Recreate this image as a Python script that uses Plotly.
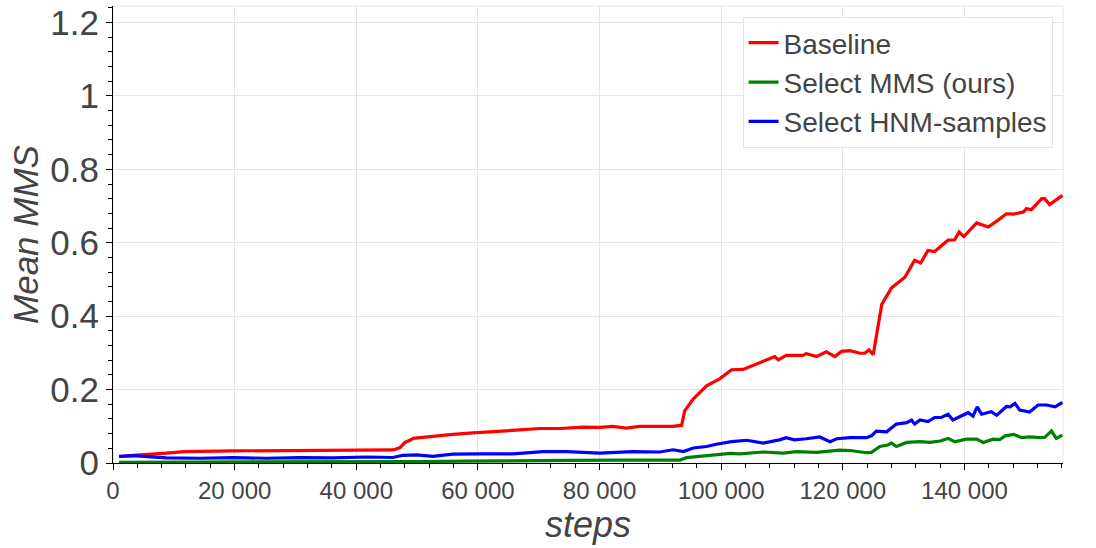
import plotly.graph_objects as go

# ---- data ----
steps_baseline = [1000, 3300, 8800, 11600, 20000, 30000, 41700, 46100, 47200, 48000, 48800, 49400,
                  50500, 52100, 54300, 55900, 59200, 63100, 66900, 70200, 73500, 77300, 80000, 82200,
                  84400, 86600, 89400, 92100, 93500, 94000, 95400, 97600, 99800, 101700, 103600,
                  105800, 107500, 108800, 109400, 110700, 113400, 114000, 115700, 117300, 118700,
                  119800, 121200, 122800, 123600, 124300, 125000, 126400, 128000, 130200, 131800,
                  132800, 134000, 135100, 137300, 138400, 139100, 139900, 142000, 143900, 145300,
                  146900, 148000, 149700, 150200, 151000, 152700, 153200, 154000, 155100, 156100]
mms_baseline = [0.017, 0.021, 0.027, 0.031, 0.033, 0.034, 0.0355, 0.0355, 0.042, 0.056, 0.062, 0.067,
                0.069, 0.072, 0.075, 0.078, 0.082, 0.085, 0.09, 0.094, 0.094, 0.098, 0.097, 0.1,
                0.095, 0.1, 0.1, 0.1, 0.103, 0.142, 0.174, 0.21, 0.23, 0.254, 0.255,
                0.27, 0.281, 0.29, 0.281, 0.293, 0.293, 0.298, 0.29, 0.303, 0.29,
                0.304, 0.306, 0.299, 0.299, 0.308, 0.295, 0.432, 0.477, 0.506, 0.552,
                0.545, 0.579, 0.576, 0.607, 0.608, 0.629, 0.617, 0.654, 0.643, 0.659,
                0.679, 0.678, 0.684, 0.693, 0.69, 0.72, 0.72, 0.704, 0.716, 0.729]

steps_mms = [1000, 10000, 20000, 30000, 40000, 46000, 50500, 58000, 67000, 75000, 83300, 88000,
             93200, 94300, 95900, 97500, 99800, 101500, 103100, 104500, 106900, 110200, 112400,
             115700, 119500, 121200, 123900, 124700, 126100, 127400, 128000, 128800, 130500,
             132700, 134300, 136000, 137300, 138400, 140300, 142000, 143100, 144700, 145800,
             146700, 148100, 149400, 150700, 152400, 153200, 154300, 155100, 156100]
mms_select = [0.002, 0.002, 0.002, 0.003, 0.003, 0.003, 0.004, 0.005, 0.007, 0.007, 0.008, 0.008,
              0.008, 0.0145, 0.017, 0.02, 0.024, 0.026, 0.025, 0.027, 0.03, 0.027, 0.031,
              0.029, 0.035, 0.034, 0.028, 0.029, 0.045, 0.049, 0.054, 0.045, 0.056,
              0.058, 0.056, 0.06, 0.067, 0.058, 0.065, 0.065, 0.056, 0.065, 0.064,
              0.074, 0.078, 0.069, 0.071, 0.069, 0.07, 0.087, 0.067, 0.076]

steps_hnm = [1000, 3300, 8800, 14300, 19700, 25300, 30700, 36200, 41700, 46000, 47700, 49900,
             52600, 55900, 60300, 65800, 70700, 74600, 80000, 85500, 89900, 92100, 93800, 95400,
             97600, 99200, 101700, 103100, 104200, 106900, 109600, 110700, 112000, 114000, 116200,
             117900, 119000, 121200, 123900, 124700, 125500, 127200, 128800, 130500, 131300,
             131800, 132700, 134000, 135100, 136200, 137300, 138100, 140600, 141400, 142100,
             142800, 144400, 145300, 146900, 147500, 148300, 149100, 150700, 152100, 153500,
             154900, 156100]
mms_hnm = [0.018, 0.02, 0.014, 0.013, 0.0145, 0.013, 0.0145, 0.014, 0.0164, 0.015, 0.021, 0.022,
           0.018, 0.024, 0.025, 0.025, 0.031, 0.031, 0.027, 0.031, 0.03, 0.036, 0.031, 0.041,
           0.045, 0.051, 0.058, 0.06, 0.062, 0.054, 0.063, 0.069, 0.063, 0.066, 0.071,
           0.058, 0.066, 0.069, 0.069, 0.074, 0.087, 0.085, 0.106, 0.11, 0.117,
           0.106, 0.117, 0.113, 0.124, 0.124, 0.133, 0.117, 0.137, 0.128, 0.153,
           0.133, 0.14, 0.13, 0.154, 0.153, 0.162, 0.144, 0.139, 0.158, 0.158,
           0.153, 0.165]

series_names = ["Baseline", "Select MMS (ours)", "Select HNM-samples"]
series_colors = ["red", "green", "blue"]

assert len(steps_baseline) == len(mms_baseline)
assert len(steps_mms) == len(mms_select)
assert len(steps_hnm) == len(mms_hnm)

FONT = "Liberation Sans, Arial, Helvetica, sans-serif"

fig = go.Figure()
for name, color, xs, ys in zip(series_names, series_colors,
                               [steps_baseline, steps_mms, steps_hnm],
                               [mms_baseline, mms_select, mms_hnm]):
    fig.add_trace(go.Scatter(x=xs, y=ys, mode="lines", name=name,
                             line=dict(color=color, width=3.2)))

fig.update_layout(
    width=1096, height=548,
    margin=dict(l=113, r=33, t=6, b=85, autoexpand=False),
    paper_bgcolor="white", plot_bgcolor="white",
    separators=". ",
    font=dict(family=FONT, color="#444444"),
    showlegend=True,
    legend=dict(x=0.989, y=0.976, xanchor="right", yanchor="top",
                bgcolor="white", bordercolor="#e5e5e5", borderwidth=1,
                font=dict(size=28, color="#444444"),
                itemwidth=30, tracegroupgap=0),
    xaxis=dict(
        range=[0, 156200], tickmode="linear", tick0=0, dtick=20000, tickformat=",d",
        automargin=False,
        showgrid=True, gridcolor="#e5e5e5", gridwidth=1, zeroline=False,
        showline=True, linecolor="black", linewidth=1,
        ticks="outside", ticklen=6, tickcolor="black",
        tickfont=dict(size=24, color="#444444"),
        minor=dict(dtick=4000, ticks="outside", ticklen=4, tickcolor="black", showgrid=False),
        title=dict(text="<i>steps</i>", font=dict(size=36, color="#444444"), standoff=0),
    ),
    yaxis=dict(
        range=[0, 1.245], tickmode="linear", tick0=0, dtick=0.2,
        automargin=False,
        showgrid=True, gridcolor="#e5e5e5", gridwidth=1, zeroline=False,
        showline=True, linecolor="black", linewidth=1,
        ticks="outside", ticklen=6, tickcolor="black",
        tickfont=dict(size=35, color="#444444"),
        minor=dict(dtick=0.04, ticks="outside", ticklen=4, tickcolor="black", showgrid=False),
        title=dict(text="<i>Mean MMS</i>", font=dict(size=35, color="#444444"), standoff=1),
    ),
    shapes=[dict(type="rect", xref="paper", yref="paper", x0=0, y0=0, x1=1, y1=1,
                 line=dict(color="#e5e5e5", width=1), layer="below")],
)

fig.write_html("out.html",
               config={"displayModeBar": False},
               post_script="document.body.style.margin='0';document.body.style.overflow='hidden';")
